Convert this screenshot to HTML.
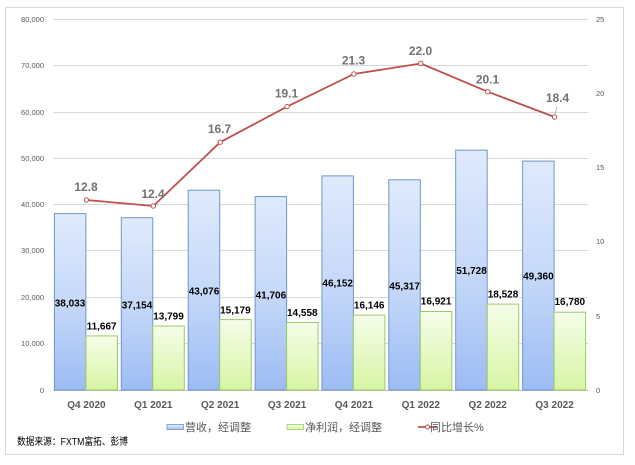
<!DOCTYPE html>
<html><head><meta charset="utf-8"><style>
html,body{margin:0;padding:0;background:#fff;}
svg{display:block;}
</style></head><body>
<svg width="635" height="465" viewBox="0 0 635 465" xmlns="http://www.w3.org/2000/svg" font-family="Liberation Sans, Noto Sans CJK SC, sans-serif">
<defs>
<linearGradient id="gb" x1="0" y1="0" x2="0" y2="1">
<stop offset="0" stop-color="#dfeafc"/><stop offset="0.5" stop-color="#c6d9f9"/><stop offset="1" stop-color="#9dbcf4"/>
</linearGradient>
<linearGradient id="gg" x1="0" y1="0" x2="0" y2="1">
<stop offset="0" stop-color="#f5fdea"/><stop offset="1" stop-color="#d7f5a4"/>
</linearGradient>
</defs>
<rect x="0" y="0" width="635" height="465" fill="#fff"/>
<rect x="5.5" y="7.5" width="618" height="447" fill="#fff" stroke="#d9d9d9" stroke-width="1"/>
<!-- gridlines -->
<g stroke="#d9d9d9" stroke-width="1">
<line x1="53" x2="588" y1="19.5" y2="19.5"/>
<line x1="53" x2="588" y1="65.5" y2="65.5"/>
<line x1="53" x2="588" y1="112.5" y2="112.5"/>
<line x1="53" x2="588" y1="158.5" y2="158.5"/>
<line x1="53" x2="588" y1="204.5" y2="204.5"/>
<line x1="53" x2="588" y1="250.5" y2="250.5"/>
<line x1="53" x2="588" y1="297.5" y2="297.5"/>
<line x1="53" x2="588" y1="343.5" y2="343.5"/>
</g>
<line x1="53" x2="588" y1="390.5" y2="390.5" stroke="#bfbfbf" stroke-width="1"/>
<!-- left axis labels -->
<g font-size="7.5" fill="#595959" text-anchor="end">
<text x="44" y="22">80,000</text>
<text x="44" y="68">70,000</text>
<text x="44" y="115">60,000</text>
<text x="44" y="161">50,000</text>
<text x="44" y="207">40,000</text>
<text x="44" y="253">30,000</text>
<text x="44" y="300">20,000</text>
<text x="44" y="346">10,000</text>
<text x="44" y="393">0</text>
</g>
<!-- right axis labels -->
<g font-size="7.5" fill="#595959" text-anchor="start">
<text x="596" y="22">25</text>
<text x="596" y="96">20</text>
<text x="596" y="170">15</text>
<text x="596" y="244">10</text>
<text x="596" y="319">5</text>
<text x="596" y="393">0</text>
</g>
<!-- bars -->
<g stroke-width="1">
<rect x="54.4" y="213.6" width="31.5" height="176.4" fill="url(#gb)" stroke="#7096c8"/>
<rect x="85.9" y="335.9" width="31.5" height="54.1" fill="url(#gg)" stroke="#9dcb66"/>
<rect x="121.3" y="217.7" width="31.5" height="172.3" fill="url(#gb)" stroke="#7096c8"/>
<rect x="152.8" y="326.0" width="31.5" height="64.0" fill="url(#gg)" stroke="#9dcb66"/>
<rect x="188.2" y="190.2" width="31.5" height="199.8" fill="url(#gb)" stroke="#7096c8"/>
<rect x="219.7" y="319.6" width="31.5" height="70.4" fill="url(#gg)" stroke="#9dcb66"/>
<rect x="255.1" y="196.6" width="31.5" height="193.4" fill="url(#gb)" stroke="#7096c8"/>
<rect x="286.6" y="322.5" width="31.5" height="67.5" fill="url(#gg)" stroke="#9dcb66"/>
<rect x="321.9" y="175.9" width="31.5" height="214.1" fill="url(#gb)" stroke="#7096c8"/>
<rect x="353.4" y="315.1" width="31.5" height="74.9" fill="url(#gg)" stroke="#9dcb66"/>
<rect x="388.8" y="179.8" width="31.5" height="210.2" fill="url(#gb)" stroke="#7096c8"/>
<rect x="420.3" y="311.5" width="31.5" height="78.5" fill="url(#gg)" stroke="#9dcb66"/>
<rect x="455.7" y="150.1" width="31.5" height="239.9" fill="url(#gb)" stroke="#7096c8"/>
<rect x="487.2" y="304.1" width="31.5" height="85.9" fill="url(#gg)" stroke="#9dcb66"/>
<rect x="522.6" y="161.1" width="31.5" height="228.9" fill="url(#gb)" stroke="#7096c8"/>
<rect x="554.1" y="312.2" width="31.5" height="77.8" fill="url(#gg)" stroke="#9dcb66"/>
</g>
<!-- bar labels -->
<g font-size="10" font-weight="bold" fill="#000" text-anchor="middle">
<text x="70" y="306.5">38,033</text>
<text x="101.6" y="329.5">11,667</text>
<text x="137" y="308.5">37,154</text>
<text x="168.5" y="319.5">13,799</text>
<text x="204" y="294.5">43,076</text>
<text x="235.4" y="313.5">15,179</text>
<text x="270.9" y="298.5">41,706</text>
<text x="302.3" y="316">14,558</text>
<text x="337.7" y="286.5">46,152</text>
<text x="369.2" y="308.5">16,146</text>
<text x="404.6" y="289.5">45,317</text>
<text x="436.1" y="304.5">16,921</text>
<text x="471.5" y="274">51,728</text>
<text x="503" y="297.5">18,528</text>
<text x="538.4" y="279.5">49,360</text>
<text x="569.8" y="305">16,780</text>
</g>
<!-- line -->
<polyline fill="none" stroke="#c0504d" stroke-width="1.8" stroke-linejoin="round" points="86.4,200 153.3,206 220.2,142.2 287.1,106.6 353.9,74 420.8,63.5 487.7,91.7 554.6,117"/>
<line x1="557" y1="107" x2="555" y2="114" stroke="#a6a6a6" stroke-width="0.8"/>
<g fill="#fff" stroke="#c0504d" stroke-width="1">
<circle cx="86.4" cy="200" r="2.2"/>
<circle cx="153.3" cy="206" r="2.2"/>
<circle cx="220.2" cy="142.2" r="2.2"/>
<circle cx="287.1" cy="106.6" r="2.2"/>
<circle cx="353.9" cy="74" r="2.2"/>
<circle cx="420.8" cy="63.5" r="2.2"/>
<circle cx="487.7" cy="91.7" r="2.2"/>
<circle cx="554.6" cy="117" r="2.2"/>
</g>
<g font-size="12" font-weight="bold" fill="#767171" text-anchor="middle">
<text x="86" y="191">12.8</text>
<text x="153" y="198">12.4</text>
<text x="219.5" y="133">16.7</text>
<text x="286.5" y="97.5">19.1</text>
<text x="353.5" y="64.5">21.3</text>
<text x="420.5" y="55">22.0</text>
<text x="487.5" y="83.5">20.1</text>
<text x="557.5" y="102">18.4</text>
</g>
<!-- x labels -->
<g font-size="10" font-weight="bold" fill="#595959" text-anchor="middle">
<text x="86.4" y="408">Q4 2020</text>
<text x="153.3" y="408">Q1 2021</text>
<text x="220.2" y="408">Q2 2021</text>
<text x="287.1" y="408">Q3 2021</text>
<text x="353.9" y="408">Q4 2021</text>
<text x="420.8" y="408">Q1 2022</text>
<text x="487.7" y="408">Q2 2022</text>
<text x="554.6" y="408">Q3 2022</text>
</g>
<!-- legend -->
<rect x="167" y="424.5" width="16.5" height="5" fill="url(#gb)" stroke="#7096c8" stroke-width="0.8"/>
<text x="185" y="431" font-size="11" fill="#595959" font-family="Noto Sans CJK SC, sans-serif">营收，经调整</text>
<rect x="287" y="424.5" width="16.5" height="5" fill="url(#gg)" stroke="#9dcb66" stroke-width="0.8"/>
<text x="305" y="431" font-size="11" fill="#595959" font-family="Noto Sans CJK SC, sans-serif">净利润，经调整</text>
<line x1="418" y1="427" x2="437" y2="427" stroke="#c0504d" stroke-width="1.8"/>
<circle cx="427.5" cy="427" r="2" fill="#fff" stroke="#c0504d" stroke-width="1"/>
<text x="430" y="431" font-size="11" fill="#595959" font-family="Liberation Sans, Noto Sans CJK SC, sans-serif">同比增长%</text>
<!-- source -->
<text x="17" y="445" font-size="10" fill="#000" textLength="111" lengthAdjust="spacingAndGlyphs" font-family="Liberation Sans, Noto Sans CJK SC, sans-serif">数据来源：FXTM富拓、彭博</text>
</svg>
</body></html>
